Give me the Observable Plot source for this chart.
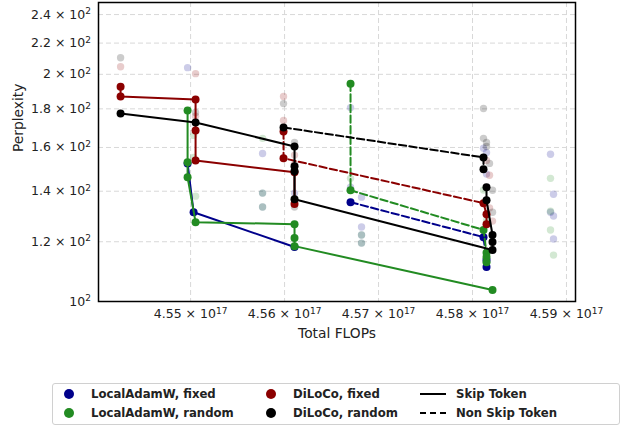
<!DOCTYPE html>
<html><head><meta charset="utf-8">
<script src="https://cdn.jsdelivr.net/npm/d3@7"></script>
<script src="https://cdn.jsdelivr.net/npm/@observablehq/plot@0.6"></script>
<style>
body{margin:0;background:#fff;font-family:"DejaVu Sans",sans-serif;}
#wrap{position:relative;width:621px;height:428px;overflow:hidden;}
#legend{position:absolute;left:52px;top:383px;width:568px;height:42px;border:1px solid #d0d0d0;border-radius:3px;box-sizing:border-box;font-weight:bold;font-size:11.7px;color:#222;}
.it{position:absolute;white-space:nowrap;line-height:14px;}
.dot{position:absolute;width:10px;height:10px;border-radius:50%;}
.ln{position:absolute;width:26px;height:0;}
</style></head>
<body><div id="wrap"><div id="chart"></div><div id="legend"></div></div>
<script>
// ---- data (x in units of 1e17 FLOPs, y = perplexity) ----
const methods = ["LocalAdamW, fixed", "LocalAdamW, random", "DiLoCo, fixed", "DiLoCo, random"];
const methodColors = ["#00008b", "#228b22", "#8b0000", "#000000"];
const tokenModes = ["Skip Token", "Non Skip Token"];

const xTicks = [4.55, 4.56, 4.57, 4.58, 4.59];
const xTickLabels = ["4.55 × 10¹⁷", "4.56 × 10¹⁷", "4.57 × 10¹⁷", "4.58 × 10¹⁷", "4.59 × 10¹⁷"];
const yTicks = [100, 120, 140, 160, 180, 200, 220, 240];
const yTickLabels = ["10²", "1.2 × 10²", "1.4 × 10²", "1.6 × 10²", "1.8 × 10²", "2 × 10²", "2.2 × 10²", "2.4 × 10²"];

const adamFixedSkipX = [4.54968, 4.55032, 4.56106];
const adamFixedSkipY = [152.4, 131.3, 118.1];
const adamFixedNoSkipX = [4.56702, 4.58117, 4.58149, 4.58149];
const adamFixedNoSkipY = [135.4, 121.7, 113.5, 111.1];

const adamRandSkipX = [4.54968, 4.54968, 4.54968, 4.55053, 4.56106, 4.56106, 4.56106, 4.58213];
const adamRandSkipY = [179.1, 152.9, 146.1, 127.4, 126.6, 121.4, 118.4, 103.6];
const adamRandNoSkipX = [4.56702, 4.56702, 4.58117, 4.58149, 4.58149, 4.58149];
const adamRandNoSkipY = [194.4, 140.4, 124.4, 116.0, 114.5, 112.7];

const dilocoFixedSkipX = [4.54255, 4.54255, 4.55053, 4.55053, 4.55053, 4.56106, 4.56106];
const dilocoFixedSkipY = [192.6, 186.9, 185.2, 168.5, 153.8, 148.3, 134.6];
const dilocoFixedNoSkipX = [4.55989, 4.55989, 4.58117, 4.58149, 4.58149];
const dilocoFixedNoSkipY = [168.0, 154.8, 135.0, 130.5, 126.6];

const dilocoRandSkipX = [4.54255, 4.55053, 4.56106, 4.56106, 4.56106, 4.56106, 4.58213, 4.58213, 4.58213, 4.58149, 4.58149];
const dilocoRandSkipY = [177.5, 172.7, 160.5, 151.1, 148.8, 136.6, 117.0, 119.9, 122.5, 136.2, 141.7];
const dilocoRandNoSkipX = [4.55989, 4.58117, 4.58117];
const dilocoRandNoSkipY = [170.1, 155.2, 149.7];

// individual runs (faint)
const runsAdamFixedX = [4.54968, 4.55766, 4.55766, 4.55766, 4.56106, 4.56702, 4.56702, 4.56819, 4.56819, 4.56819, 4.56819, 4.58117, 4.58149, 4.58149, 4.5883, 4.58862, 4.5883, 4.58862, 4.58862];
const runsAdamFixedY = [204.1, 157.1, 139.2, 133.4, 139.2, 180.7, 141.7, 137.5, 125.5, 122.5, 119.5, 159.6, 157.5, 147.5, 156.7, 138.7, 131.3, 121.0, 129.8];
const runsAdamRandX = [4.55053, 4.55032, 4.55032, 4.55766, 4.55766, 4.55766, 4.56702, 4.56819, 4.56819, 4.5883, 4.5883, 4.5883, 4.58862, 4.58117, 4.58149];
const runsAdamRandY = [137.9, 166.0, 155.2, 164.5, 139.2, 133.4, 145.6, 122.5, 119.5, 145.6, 131.7, 124.4, 115.2, 140.5, 128.0];
const runsDilocoFixedX = [4.54255, 4.55053, 4.55989, 4.55989, 4.56106, 4.56106, 4.58149, 4.58181, 4.58213, 4.58181, 4.55053];
const runsDilocoFixedY = [204.7, 200.4, 186.9, 173.7, 156.3, 152.0, 153.8, 147.0, 127.8, 133.0, 176.0];
const runsDilocoRandX = [4.54255, 4.55989, 4.56106, 4.56106, 4.58117, 4.58117, 4.58149, 4.58149, 4.58181, 4.58213, 4.58213, 4.55053];
const runsDilocoRandY = [210.4, 182.9, 162.5, 133.4, 180.2, 164.5, 162.5, 160.5, 152.4, 140.4, 131.3, 178.0];

// ---- build ----
const E = 1e17;
const pts = (xs, ys) => xs.map((x, i) => ({x: x * E, y: ys[i]}));
const lines = [
  [adamFixedSkipX, adamFixedSkipY, 0, 0], [adamFixedNoSkipX, adamFixedNoSkipY, 0, 1],
  [adamRandSkipX, adamRandSkipY, 1, 0], [adamRandNoSkipX, adamRandNoSkipY, 1, 1],
  [dilocoFixedSkipX, dilocoFixedSkipY, 2, 0], [dilocoFixedNoSkipX, dilocoFixedNoSkipY, 2, 1],
  [dilocoRandSkipX, dilocoRandSkipY, 3, 0], [dilocoRandNoSkipX, dilocoRandNoSkipY, 3, 1]
];
const runs = [
  [runsAdamFixedX, runsAdamFixedY, 0], [runsAdamRandX, runsAdamRandY, 1],
  [runsDilocoFixedX, runsDilocoFixedY, 2], [runsDilocoRandX, runsDilocoRandY, 3]
];
const dash = "7.4,3.2";
const marks = [
  Plot.gridX(xTicks.map(d => d * E), {stroke: "#d8d8d8", strokeOpacity: 1, strokeDasharray: "5,3"}),
  Plot.gridY(yTicks, {stroke: "#d8d8d8", strokeOpacity: 1, strokeDasharray: "5,3"}),
  Plot.axisX(xTicks.map(d => d * E), {tickSize: 0, tickPadding: 8, fontSize: 12.5, label: null,
    tickFormat: d => xTickLabels[xTicks.findIndex(t => Math.abs(t * E - d) < 1e10)]}),
  Plot.axisY(yTicks, {tickSize: 0, tickPadding: 7.5, fontSize: 12.5, label: null,
    tickFormat: d => yTickLabels[yTicks.indexOf(d)]})
];
for (const [xs, ys, m] of runs) {
  marks.push(Plot.dot(pts(xs, ys), {x: "x", y: "y", r: 3.7, fill: methodColors[m], fillOpacity: 0.2, stroke: "none"}));
}
for (const [xs, ys, m, k] of lines) {
  const d = pts(xs, ys);
  marks.push(Plot.line(d, {x: "x", y: "y", stroke: methodColors[m], strokeWidth: 2,
    strokeDasharray: k ? dash : null}));
  marks.push(Plot.dot(d, {x: "x", y: "y", r: 4, fill: methodColors[m], stroke: "none"}));
}
marks.push(Plot.frame({stroke: "black", strokeWidth: 1.5}));
marks.push(Plot.text(["Total FLOPs"], {frameAnchor: "bottom", dy: 32, lineAnchor: "middle", fontSize: 13.8, fill: "#222"}));
marks.push(Plot.text(["Perplexity"], {frameAnchor: "left", dx: -80, rotate: -90, lineAnchor: "middle", fontSize: 13.8, fill: "#222"}));

const chart = Plot.plot({
  width: 621, height: 383,
  marginLeft: 98, marginRight: 46, marginTop: 2, marginBottom: 82,
  style: {fontFamily: "DejaVu Sans, sans-serif", color: "#222", background: "white"},
  x: {domain: [4.5402 * E, 4.59096 * E]},
  y: {type: "log", domain: [100, 249]},
  marks
});
document.getElementById("chart").appendChild(chart);

// render exponent as a raised, smaller tspan (like mathtext)
const supMap = {"⁰":"0","¹":"1","²":"2","³":"3","⁴":"4","⁵":"5","⁶":"6","⁷":"7","⁸":"8","⁹":"9"};
chart.querySelectorAll("text").forEach(t => {
  const s = t.textContent;
  const m = s.match(/^(.*10)([⁰¹²³⁴⁵⁶⁷⁸⁹]+)$/);
  if (!m) return;
  t.textContent = m[1];
  const ts = document.createElementNS("http://www.w3.org/2000/svg", "tspan");
  ts.setAttribute("dy", "-0.48em");
  ts.setAttribute("font-size", "0.72em");
  ts.textContent = [...m[2]].map(c => supMap[c]).join("");
  t.appendChild(ts);
});

// ---- legend ----
const leg = document.getElementById("legend");
const rowsY = [11, 30];
const colMarker = [16, 218], colText = [38, 240];
methods.forEach((name, i) => {
  const c = Math.floor(i / 2), r = i % 2;
  const dEl = document.createElement("div"); dEl.className = "dot";
  dEl.style.background = methodColors[i];
  dEl.style.left = (colMarker[c] - 5) + "px"; dEl.style.top = (rowsY[r] - 6) + "px";
  leg.appendChild(dEl);
  const t = document.createElement("div"); t.className = "it"; t.textContent = name;
  t.style.left = colText[c] + "px"; t.style.top = (rowsY[r] - 8) + "px";
  leg.appendChild(t);
});
tokenModes.forEach((name, r) => {
  const l = document.createElement("div"); l.className = "ln";
  l.style.borderTop = "2px " + (r ? "dashed" : "solid") + " #000";
  l.style.left = "367px"; l.style.top = (rowsY[r] - 2) + "px";
  leg.appendChild(l);
  const t = document.createElement("div"); t.className = "it"; t.textContent = name;
  t.style.left = "403px"; t.style.top = (rowsY[r] - 8) + "px";
  leg.appendChild(t);
});
</script></body></html>
